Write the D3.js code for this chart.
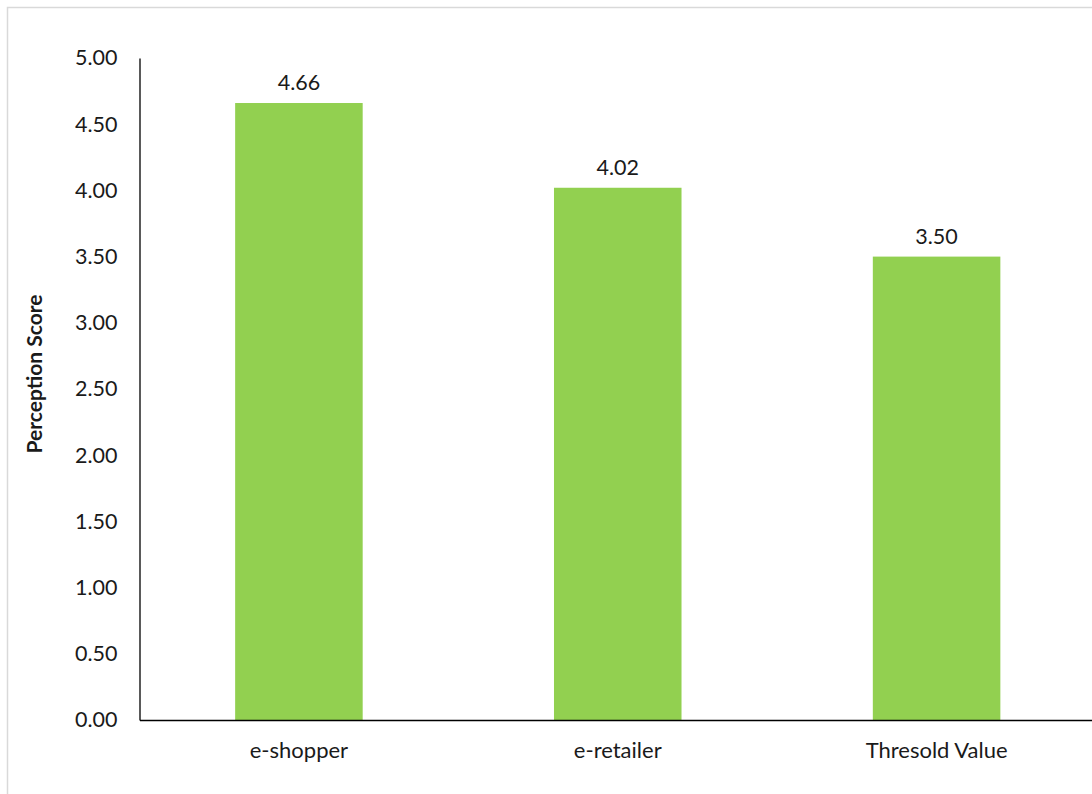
<!DOCTYPE html>
<html>
<head>
<meta charset="utf-8">
<script src="https://cdn.jsdelivr.net/npm/d3@7"></script>
<style>
  html, body { margin: 0; padding: 0; background: #fff; }
  svg { display: block; }
  text { font-family: Lato, "Open Sans", sans-serif; fill: #1a1a1a; }
</style>
</head>
<body>
<svg id="chart" width="1092" height="794"></svg>
<script>
// Mean perception score by group
const categories = ["e-shopper", "e-retailer", "Thresold Value"];
const scores = [4.66, 4.02, 3.50];
const yTicks = [0, 0.5, 1, 1.5, 2, 2.5, 3, 3.5, 4, 4.5, 5];

const svg = d3.select("#chart");
const W = 1092, H = 794;

// outer chart-area frame
svg.append("rect")
  .attr("x", 7.5).attr("y", 7.5)
  .attr("width", W + 20).attr("height", H + 20)
  .attr("fill", "#fff")
  .attr("stroke", "#d9d9d9").attr("stroke-width", 1.5);

const plot = { left: 139.5, right: 1096, top: 58, bottom: 720 };

const x = d3.scaleBand()
  .domain(categories)
  .range([plot.left, plot.right])
  .paddingInner(0.6)
  .paddingOuter(0.3);

const y = d3.scaleLinear().domain([0, 5]).range([plot.bottom, plot.top]);

// bars
svg.append("g").selectAll("rect")
  .data(categories)
  .join("rect")
  .attr("x", d => x(d))
  .attr("width", x.bandwidth())
  .attr("y", (d, i) => y(scores[i]))
  .attr("height", (d, i) => y(0) - y(scores[i]))
  .attr("fill", "#92d050");

// value labels
svg.append("g").selectAll("text")
  .data(categories)
  .join("text")
  .attr("x", d => x(d) + x.bandwidth() / 2)
  .attr("y", (d, i) => y(scores[i]) - 13)
  .attr("text-anchor", "middle")
  .attr("font-size", 21.5)
  .text((d, i) => d3.format(".2f")(scores[i]));

// y axis
const yAxis = svg.append("g")
  .attr("transform", `translate(${plot.left},0)`)
  .call(d3.axisLeft(y).tickValues(yTicks).tickFormat(d3.format(".2f")).tickSize(0).tickPadding(22));
yAxis.select(".domain").attr("stroke", "#000").attr("stroke-width", 1.3);
yAxis.selectAll("text")
  .attr("font-size", 21.5)
  .attr("font-family", "Lato, 'Open Sans', sans-serif")
  .attr("fill", "#1a1a1a");

// x axis
const xAxis = svg.append("g")
  .attr("transform", `translate(0,${plot.bottom})`)
  .call(d3.axisBottom(x).tickSize(0).tickPadding(22));
xAxis.select(".domain").attr("stroke", "#000").attr("stroke-width", 1.3);
xAxis.selectAll("text")
  .attr("font-size", 22)
  .attr("font-family", "Lato, 'Open Sans', sans-serif")
  .attr("fill", "#1a1a1a");

// y axis title
svg.append("text")
  .attr("transform", "translate(42,374) rotate(-90)")
  .attr("text-anchor", "middle")
  .attr("font-size", 21)
  .attr("font-weight", "bold")
  .text("Perception Score");
</script>
</body>
</html>
